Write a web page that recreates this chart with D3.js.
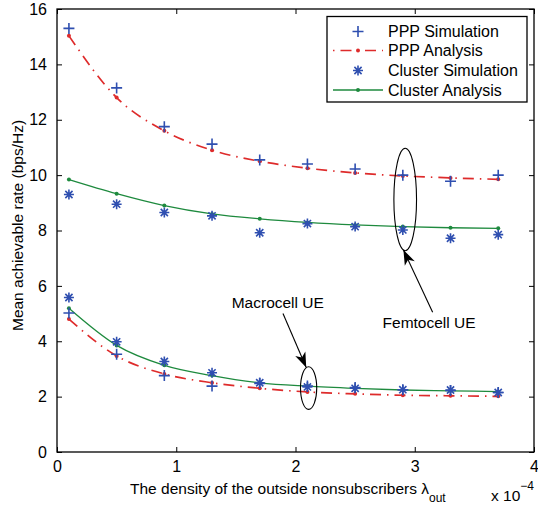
<!DOCTYPE html>
<html>
<head>
<meta charset="utf-8">
<script src="https://cdn.jsdelivr.net/npm/d3@7"></script>
<style>
  body { margin: 0; background: #fff; }
  svg text { font-family: "Liberation Sans", Arial, Helvetica, sans-serif; fill: #000; }
</style>
</head>
<body>
<div id="chart"></div>
<script>
// x values (units of 1e-4)
const lambdaOut = [0.1, 0.5, 0.9, 1.3, 1.7, 2.1, 2.5, 2.9, 3.3, 3.7];

// femtocell UE (upper group)
const pppSimFemto     = [15.3, 13.15, 11.75, 11.12, 10.55, 10.4, 10.22, 10.0, 9.78, 10.0];
const pppAnaFemto     = [15.03, 12.8, 11.6, 10.9, 10.5, 10.25, 10.08, 9.97, 9.9, 9.85];
const clusterSimFemto = [9.3, 8.95, 8.65, 8.53, 7.92, 8.25, 8.14, 8.02, 7.72, 7.85];
const clusterAnaFemto = [9.84, 9.33, 8.9, 8.6, 8.42, 8.29, 8.2, 8.14, 8.1, 8.08];

// macrocell UE (lower group)
const pppSimMacro     = [5.02, 3.53, 2.76, 2.38, 2.48, 2.38, 2.33, 2.25, 2.22, 2.15];
const pppAnaMacro     = [4.8, 3.47, 2.82, 2.5, 2.3, 2.17, 2.1, 2.05, 2.03, 2.01];
const clusterSimMacro = [5.58, 3.98, 3.27, 2.86, 2.5, 2.35, 2.3, 2.25, 2.24, 2.15];
const clusterAnaMacro = [5.19, 3.85, 3.13, 2.76, 2.5, 2.38, 2.3, 2.24, 2.21, 2.18];

const xTicks = [0, 1, 2, 3, 4];
const yTicks = [0, 2, 4, 6, 8, 10, 12, 14, 16];
const legendLabels = ['PPP Simulation', 'PPP Analysis', 'Cluster Simulation', 'Cluster Analysis'];

const W = 538, H = 505;
const plot = { left: 57, right: 534, top: 9, bottom: 452 };
const blue = '#2f4fb0', red = '#de2b2b', green = '#1e8a3e';

const svg = d3.select('#chart').append('svg')
    .attr('width', W).attr('height', H);

const x = d3.scaleLinear().domain([0, 4]).range([plot.left, plot.right]);
const y = d3.scaleLinear().domain([0, 16]).range([plot.bottom, plot.top]);
const fmt = d3.format('d');

// inward ticks on all four sides, like a matlab box
const tickLen = 5;
svg.append('g').attr('transform', `translate(0,${plot.bottom})`)
    .call(d3.axisBottom(x).tickValues(xTicks).tickFormat(fmt).tickSizeInner(-tickLen).tickSizeOuter(0).tickPadding(10))
    .call(g => g.select('.domain').remove())
    .call(g => g.selectAll('text').attr('font-size', 16).attr('dy', '0.6em'));
svg.append('g').attr('transform', `translate(0,${plot.top})`)
    .call(d3.axisTop(x).tickValues(xTicks).tickSizeInner(-tickLen).tickSizeOuter(0).tickFormat(''))
    .call(g => g.select('.domain').remove());
svg.append('g').attr('transform', `translate(${plot.left},0)`)
    .call(d3.axisLeft(y).tickValues(yTicks).tickFormat(fmt).tickSizeInner(-tickLen).tickSizeOuter(0).tickPadding(10))
    .call(g => g.select('.domain').remove())
    .call(g => g.selectAll('text').attr('font-size', 16));
svg.append('g').attr('transform', `translate(${plot.right},0)`)
    .call(d3.axisRight(y).tickValues(yTicks).tickSizeInner(-tickLen).tickSizeOuter(0).tickFormat(''))
    .call(g => g.select('.domain').remove());
svg.selectAll('.tick line').attr('stroke', '#000');

svg.append('rect')
    .attr('x', plot.left).attr('y', plot.top)
    .attr('width', plot.right - plot.left).attr('height', plot.bottom - plot.top)
    .attr('fill', 'none').attr('stroke', '#000').attr('stroke-width', 1.3);

// axis labels
svg.append('text')
    .attr('transform', `translate(23,${(plot.top + plot.bottom) / 2 - 5}) rotate(-90)`)
    .attr('text-anchor', 'middle').attr('font-size', 15.5)
    .text('Mean achievable rate (bps/Hz)');

let xl = svg.append('text').attr('x', 130).attr('y', 494).attr('font-size', 15.5);
xl.append('tspan').text('The density of the outside nonsubscribers \u03bb');
xl.append('tspan').attr('font-size', 12).attr('dy', 8).text('out');
let xs = svg.append('text').attr('x', 491).attr('y', 501).attr('font-size', 15.5);
xs.append('tspan').text('x 10');
xs.append('tspan').attr('font-size', 12).attr('dy', -11).text('\u22124');

// series
const pts = vals => vals.map((v, i) => [lambdaOut[i], v]);
const line = d3.line().x(d => x(d[0])).y(d => y(d[1])).curve(d3.curveMonotoneX);

function drawAnalysis(vals, color, dash, lw) {
    let g = svg.append('g');
    g.append('path').datum(pts(vals))
        .attr('d', line).attr('fill', 'none')
        .attr('stroke', color).attr('stroke-width', lw)
        .attr('stroke-dasharray', dash);
    g.selectAll('circle').data(pts(vals)).enter().append('circle')
        .attr('cx', d => x(d[0])).attr('cy', d => y(d[1])).attr('r', 2)
        .attr('fill', color);
}

function plusPath(s) { return `M${-s},0H${s}M0,${-s}V${s}`; }
function starPath(s) {
    let d = s * 0.72;
    return plusPath(s) + `M${-d},${-d}L${d},${d}M${-d},${d}L${d},${-d}`;
}

function drawMarkers(vals, pathStr) {
    svg.append('g').selectAll('path').data(pts(vals)).enter().append('path')
        .attr('transform', d => `translate(${x(d[0])},${y(d[1])})`)
        .attr('d', pathStr).attr('fill', 'none')
        .attr('stroke', blue).attr('stroke-width', 1.6);
}

const redDash = '11,6,1.5,6';
drawAnalysis(pppAnaFemto, red, redDash, 1.7);
drawAnalysis(pppAnaMacro, red, redDash, 1.7);
drawAnalysis(clusterAnaFemto, green, null, 1.3);
drawAnalysis(clusterAnaMacro, green, null, 1.3);
drawMarkers(pppSimFemto, plusPath(5.5));
drawMarkers(pppSimMacro, plusPath(5.5));
drawMarkers(clusterSimFemto, starPath(5));
drawMarkers(clusterSimMacro, starPath(5));

// annotations (data units)
const femto = { ellipse: [2.92, 9.12, 0.095, 1.85], from: [3.15, 5.05], to: [2.905, 7.3], text: [2.73, 4.48], label: 'Femtocell UE' };
const macro = { ellipse: [2.11, 2.31, 0.068, 0.77], from: [1.895, 5.0], to: [2.09, 3.05], text: [1.465, 5.2], label: 'Macrocell UE' };

svg.append('defs').append('marker')
    .attr('id', 'arrow').attr('viewBox', '-16 -6 17 12')
    .attr('refX', 0).attr('refY', 0)
    .attr('markerWidth', 17).attr('markerHeight', 12)
    .attr('markerUnits', 'userSpaceOnUse')
    .attr('orient', 'auto')
    .append('path').attr('d', 'M0,0L-15,-5.5L-11,0L-15,5.5Z').attr('fill', '#000');

[femto, macro].forEach(a => {
    let e = a.ellipse;
    svg.append('ellipse')
        .attr('cx', x(e[0])).attr('cy', y(e[1]))
        .attr('rx', x(e[2]) - x(0)).attr('ry', y(0) - y(e[3]))
        .attr('fill', 'none').attr('stroke', '#000').attr('stroke-width', 1.1);
    svg.append('line')
        .attr('x1', x(a.from[0])).attr('y1', y(a.from[1]))
        .attr('x2', x(a.to[0])).attr('y2', y(a.to[1]))
        .attr('stroke', '#000').attr('stroke-width', 1.1)
        .attr('marker-end', 'url(#arrow)');
    svg.append('text')
        .attr('x', x(a.text[0])).attr('y', y(a.text[1]))
        .attr('font-size', 15.5).text(a.label);
});

// legend
const lg = svg.append('g');
lg.append('rect').attr('x', 327).attr('y', 16.5).attr('width', 200).attr('height', 85.5)
    .attr('fill', '#fff').attr('stroke', '#000').attr('stroke-width', 1.3);
const rowY = [31.5, 50.5, 70.5, 90];
legendLabels.forEach((lab, i) => {
    let cy = rowY[i];
    if (i === 0) {
        lg.append('path').attr('transform', `translate(358,${cy})`).attr('d', plusPath(5.5))
            .attr('stroke', blue).attr('stroke-width', 1.6).attr('fill', 'none');
    } else if (i === 2) {
        lg.append('path').attr('transform', `translate(358,${cy})`).attr('d', starPath(5))
            .attr('stroke', blue).attr('stroke-width', 1.6).attr('fill', 'none');
    } else {
        let c = i === 1 ? red : green;
        lg.append('line').attr('x1', 333).attr('x2', 383).attr('y1', cy).attr('y2', cy)
            .attr('stroke', c).attr('stroke-width', i === 1 ? 1.7 : 1.3)
            .attr('stroke-dasharray', i === 1 ? '1.5,6,11,6' : null);
        lg.append('circle').attr('cx', 358).attr('cy', cy).attr('r', 2).attr('fill', c);
    }
    lg.append('text').attr('x', 388).attr('y', cy).attr('dy', '0.36em')
        .attr('font-size', 16).text(lab);
});
</script>
</body>
</html>
